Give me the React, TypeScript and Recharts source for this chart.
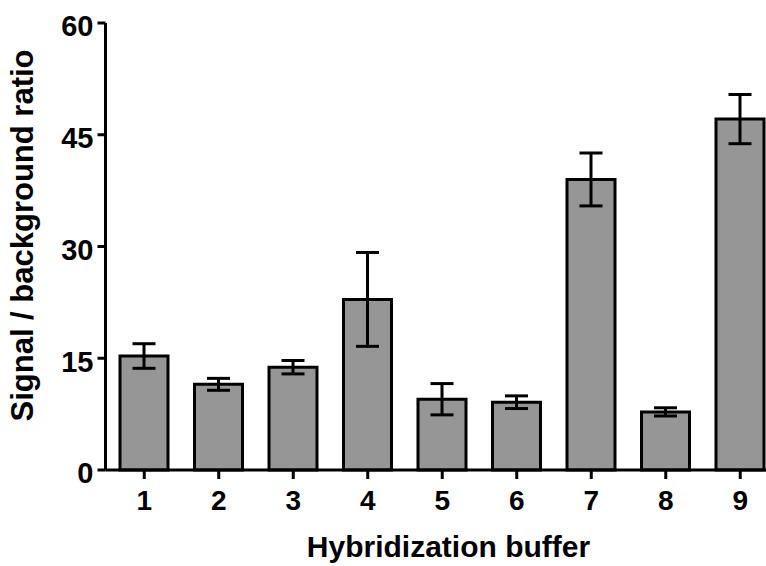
import React from 'react';
import { BarChart, Bar, XAxis, YAxis, ErrorBar, Label } from 'recharts';

const buffers = ['1', '2', '3', '4', '5', '6', '7', '8', '9'];
const ratios = [15.3, 11.5, 13.8, 22.9, 9.5, 9.1, 39.0, 7.8, 47.1];
const errors = [1.65, 0.8, 0.9, 6.3, 2.1, 0.85, 3.55, 0.55, 3.3];
const yTicks = [0, 15, 30, 45, 60];

const data = buffers.map((b, i) => ({ buffer: b, ratio: ratios[i], err: errors[i] }));

const FONT = '"Liberation Sans", Arial, sans-serif';

const YTitle = (props: any) => {
  const vb = props.viewBox || {};
  const cx = vb.x + 22;
  const cy = vb.y + vb.height / 2 - 11;
  return (
    <text
      x={cx}
      y={cy}
      transform={`rotate(-90, ${cx}, ${cy})`}
      textAnchor="middle"
      dominantBaseline="central"
      fontFamily={FONT}
      fontWeight="bold"
      fontSize={31}
      fill="#000"
    >
      Signal / background ratio
    </text>
  );
};

const XTitle = (props: any) => {
  const vb = props.viewBox || {};
  const cx = vb.x + vb.width / 2 + 7;
  const cy = vb.y + 87;
  return (
    <text
      x={cx}
      y={cy}
      textAnchor="middle"
      fontFamily={FONT}
      fontWeight="bold"
      fontSize={30}
      fill="#000"
    >
      Hybridization buffer
    </text>
  );
};

export default function App() {
  return (
    <div style={{ position: 'absolute', left: 0, top: 0, width: 766, height: 566, overflow: 'hidden', background: '#fff' }}>
      <BarChart
        width={777.5}
        height={566}
        data={data}
        margin={{ top: 23, right: 0, bottom: 0, left: 0 }}
        barSize={48}
      >
        <XAxis
          dataKey="buffer"
          height={96}
          padding={{ left: 1.5, right: 0 }}
          axisLine={{ stroke: '#000', strokeWidth: 3 }}
          tickLine={{ stroke: '#000', strokeWidth: 3 }}
          tickSize={9}
          tickMargin={11}
          tick={{ fill: '#000', fontFamily: FONT, fontWeight: 'bold', fontSize: 28 }}
        >
          <Label content={<XTitle />} />
        </XAxis>
        <YAxis
          width={105.5}
          domain={[0, 60]}
          ticks={yTicks}
          interval={0}
          axisLine={{ stroke: '#000', strokeWidth: 3 }}
          tickLine={{ stroke: '#000', strokeWidth: 3 }}
          tickSize={8}
          tickMargin={4}
          tick={{ fill: '#000', fontFamily: FONT, fontWeight: 'bold', fontSize: 29, dy: 3 }}
        >
          <Label content={<YTitle />} />
        </YAxis>
        <Bar dataKey="ratio" fill="#969696" stroke="#000" strokeWidth={3} isAnimationActive={false}>
          <ErrorBar dataKey="err" width={11.5} stroke="#000" strokeWidth={3} direction="y" />
        </Bar>
      </BarChart>
    </div>
  );
}
